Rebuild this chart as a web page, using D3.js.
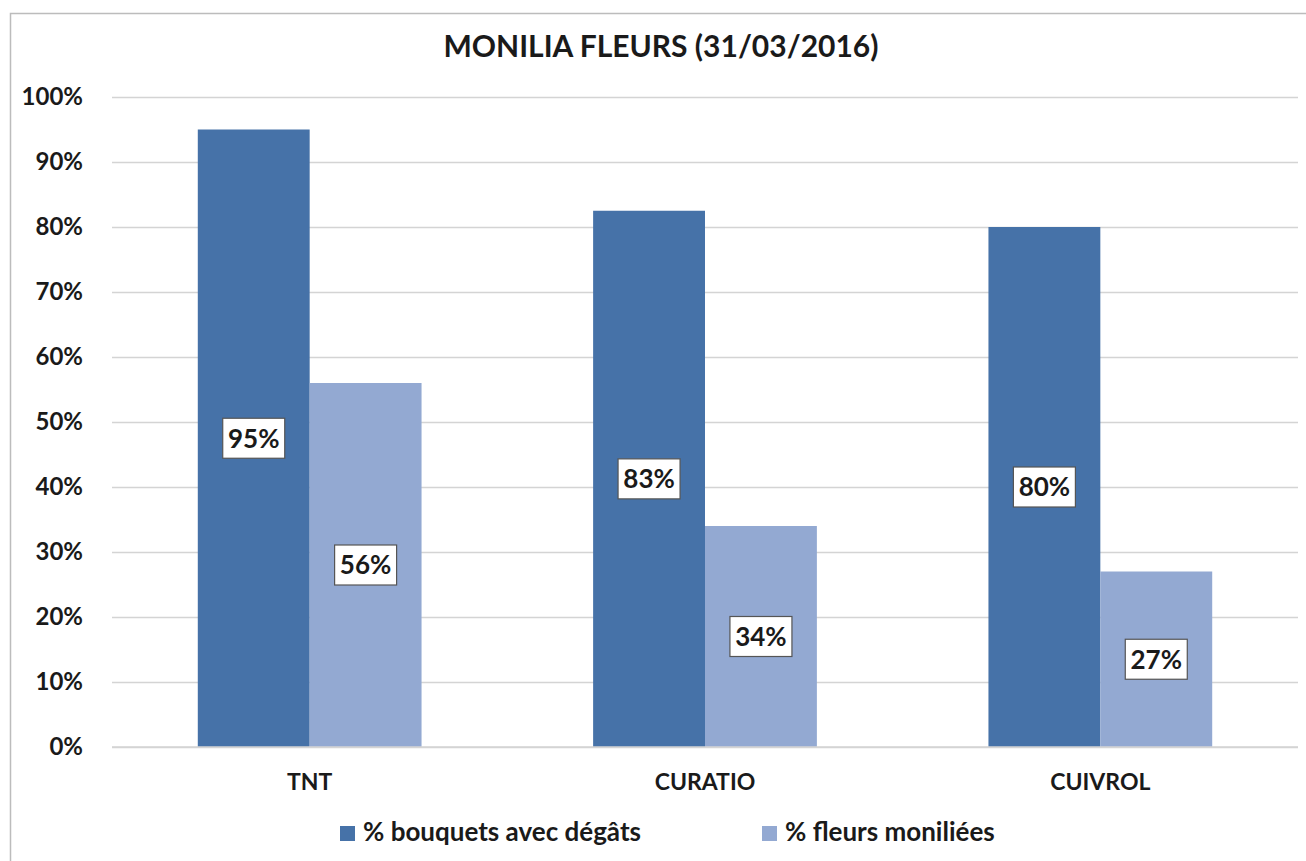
<!DOCTYPE html>
<html>
<head>
  <meta charset="UTF-8">
  <style>
    body { margin: 0; background: #fff; }
    text { font-family: Lato, "Open Sans", sans-serif; font-weight: bold; fill: #1a1a1a; }
    .grid line { stroke: #d4d4d4; stroke-width: 1.5px; }
    .grid .domain { display: none; }
    .label-box { fill: #fff; stroke: #555; stroke-width: 1.2px; }
  </style>
</head>
<body>
  <svg width="1306" height="861"></svg>
  <script src="https://cdn.jsdelivr.net/npm/d3@7"></script>
  <script>
    var categories = ["TNT", "CURATIO", "CUIVROL"];
    var seriesNames = ["% bouquets avec dégâts", "% fleurs moniliées"];
    var bouquets = [95, 82.5, 80];
    var fleurs = [56, 34, 27];
    var yTicks = [0, 10, 20, 30, 40, 50, 60, 70, 80, 90, 100];
    var colors = ["#4672a8", "#93a9d2"];

    var svg = d3.select("svg"),
        margin = {top: 97, right: 8, bottom: 114, left: 112},
        width = 1306 - margin.left - margin.right,
        height = 861 - margin.top - margin.bottom;

    // chart frame
    svg.append("path")
        .attr("d", "M10.5,861 V13.5 H1306")
        .attr("fill", "none")
        .attr("stroke", "#bcbcbc")
        .attr("stroke-width", 1.5);

    svg.append("text")
        .attr("x", 661)
        .attr("y", 57)
        .attr("text-anchor", "middle")
        .style("font-size", "30px")
        .text("MONILIA FLEURS (31/03/2016)");

    var x0 = d3.scaleBand().domain(categories).range([0, width]).paddingInner(0.434).paddingOuter(0.217);
    var x1 = d3.scaleBand().domain([0, 1]).range([0, x0.bandwidth()]);
    var y = d3.scaleLinear().domain([0, 100]).range([height, 0]);

    var g = svg.append("g").attr("transform", "translate(" + margin.left + "," + margin.top + ")");

    g.append("g")
        .attr("class", "grid")
        .call(d3.axisLeft(y).tickValues(yTicks).tickSize(-width).tickFormat(""));

    // y tick labels
    g.selectAll(".ylab")
      .data(yTicks)
      .enter().append("text")
        .attr("class", "ylab")
        .attr("x", -29)
        .attr("y", function(d) { return y(d); })
        .attr("dy", "0.35em")
        .attr("text-anchor", "end")
        .style("font-size", "24px")
        .text(function(d) { return d + "%"; });

    var rows = categories.map(function(c, i) { return {cat: c, vals: [bouquets[i], fleurs[i]]}; });

    var groups = g.selectAll(".grp")
      .data(rows)
      .enter().append("g")
        .attr("class", "grp")
        .attr("transform", function(d) { return "translate(" + x0(d.cat) + ",0)"; });

    var bars = groups.selectAll(".bar")
      .data(function(d) { return d.vals.map(function(v, k) { return {k: k, v: v}; }); })
      .enter();

    bars.append("rect")
        .attr("x", function(d) { return x1(d.k); })
        .attr("y", function(d) { return y(d.v); })
        .attr("width", x1.bandwidth())
        .attr("height", function(d) { return height - y(d.v); })
        .attr("fill", function(d) { return colors[d.k]; });

    // value labels in boxes
    var lab = bars.append("g")
        .attr("transform", function(d) {
          return "translate(" + (x1(d.k) + x1.bandwidth() / 2) + "," + (y(d.v) + (height - y(d.v)) / 2) + ")";
        });
    lab.append("rect")
        .attr("class", "label-box")
        .attr("x", -31).attr("y", -20)
        .attr("width", 62).attr("height", 40);
    lab.append("text")
        .attr("text-anchor", "middle")
        .attr("dy", "0.36em")
        .style("font-size", "26px")
        .text(function(d) { return Math.round(d.v) + "%"; });

    // x axis baseline
    g.append("line")
        .attr("x1", 0).attr("x2", width)
        .attr("y1", height).attr("y2", height)
        .attr("stroke", "#d4d4d4").attr("stroke-width", 1.5);

    g.selectAll(".xlab")
      .data(categories)
      .enter().append("text")
        .attr("x", function(d) { return x0(d) + x0.bandwidth() / 2; })
        .attr("y", height + 43)
        .attr("text-anchor", "middle")
        .style("font-size", "23px")
        .text(function(d) { return d; });

    // legend
    var legX = [340, 762];
    var leg = svg.selectAll(".leg")
      .data(seriesNames)
      .enter().append("g")
        .attr("transform", function(d, i) { return "translate(" + legX[i] + ",841)"; });
    leg.append("rect")
        .attr("x", 0).attr("y", -15)
        .attr("width", 15).attr("height", 15)
        .attr("fill", function(d, i) { return colors[i]; });
    leg.append("text")
        .attr("x", 23)
        .style("font-size", "26px")
        .text(function(d) { return d; });
  </script>
</body>
</html>
